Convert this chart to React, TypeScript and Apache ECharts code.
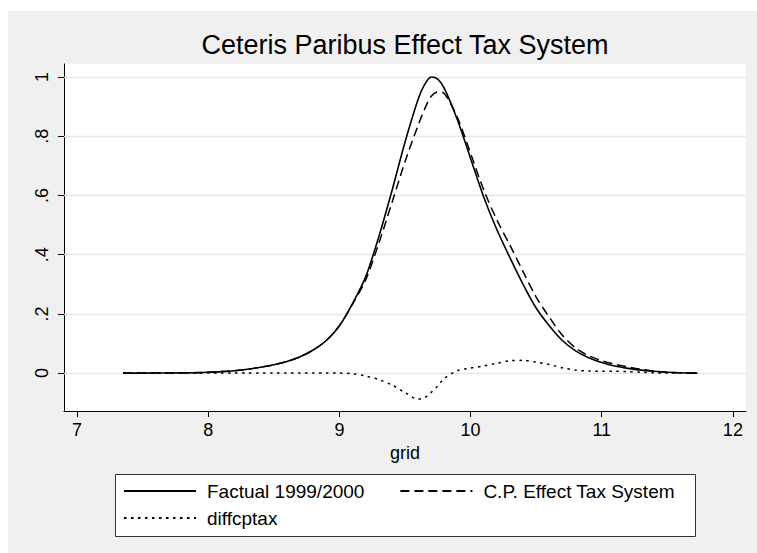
import React, { useEffect, useRef } from "react";
import * as echarts from "echarts";

const gridX = [7.35, 7.5, 7.7, 7.9, 8.0, 8.1, 8.2, 8.3, 8.4, 8.5, 8.6, 8.7, 8.8, 8.9, 9.0, 9.1, 9.2, 9.3, 9.4, 9.5, 9.6, 9.65, 9.7, 9.75, 9.8, 9.9, 10.0, 10.1, 10.2, 10.3, 10.4, 10.5, 10.6, 10.7, 10.8, 10.9, 11.0, 11.1, 11.2, 11.3, 11.4, 11.5, 11.6, 11.73];

const factual = [0, 0, 0.0005, 0.0015, 0.003, 0.005, 0.008, 0.013, 0.02, 0.028, 0.039, 0.055, 0.078, 0.11, 0.16, 0.235, 0.325, 0.46, 0.615, 0.78, 0.925, 0.975, 1.0, 0.993, 0.962, 0.855, 0.725, 0.595, 0.485, 0.39, 0.3, 0.22, 0.16, 0.11, 0.075, 0.052, 0.036, 0.024, 0.016, 0.01, 0.006, 0.003, 0.001, 0];

const cpEffect = [0, 0, 0.0005, 0.0015, 0.003, 0.005, 0.008, 0.013, 0.02, 0.028, 0.039, 0.055, 0.078, 0.11, 0.16, 0.233, 0.315, 0.438, 0.575, 0.714, 0.837, 0.892, 0.935, 0.95, 0.944, 0.863, 0.742, 0.619, 0.518, 0.432, 0.343, 0.257, 0.189, 0.128, 0.085, 0.059, 0.042, 0.03, 0.021, 0.013, 0.007, 0.003, 0.001, 0];

const diffcptax = [0, 0, 0, 0, 0, 0, 0, 0, 0, 0, 0, 0, 0, 0, 0, -0.002, -0.01, -0.022, -0.04, -0.066, -0.088, -0.083, -0.065, -0.043, -0.018, 0.008, 0.017, 0.024, 0.033, 0.042, 0.043, 0.037, 0.029, 0.018, 0.01, 0.007, 0.006, 0.006, 0.005, 0.003, 0.001, 0, 0, 0];

const xTicks = [7, 8, 9, 10, 11, 12];
const yTicks = [0, 0.2, 0.4, 0.6, 0.8, 1];

const seriesNames = ["Factual 1999/2000", "C.P. Effect Tax System", "diffcptax"];

const FONT = "'Liberation Sans', Arial, Helvetica, sans-serif";

export default function App() {
  const ref = useRef<HTMLDivElement>(null);
  useEffect(() => {
    if (!ref.current) return;
    const chart = echarts.init(ref.current, null, { renderer: "svg" });
    const pairs = (vals: number[]) => gridX.map((x, i) => [x, vals[i]]);
    const fmtY = (v: number) => {
      if (v === 0) return "0";
      if (v === 1) return "1";
      return String(+v.toFixed(1)).replace(/^0\./, ".");
    };
    const legendCommon = {
      left: 115,
      padding: 0,
      itemWidth: 72,
      itemHeight: 14,
      selectedMode: false,
      itemStyle: { opacity: 0 },
      textStyle: { fontSize: 19, color: "#000", fontFamily: FONT, padding: [0, 0, 0, 6], lineHeight: 22 },
    };
    chart.setOption({
      animation: false,
      backgroundColor: "#f0f0f0",
      textStyle: { fontFamily: FONT },
      title: {
        text: "Ceteris Paribus Effect Tax System",
        left: 397,
        top: 20,
        padding: 0,
        textAlign: "center",
        textStyle: { fontSize: 27, fontWeight: "normal", color: "#000", fontFamily: FONT },
      },
      grid: { left: 56, right: 11, top: 53, bottom: 142, show: true, backgroundColor: "#fff", borderWidth: 0 },
      xAxis: {
        type: "value",
        min: 6.9,
        max: 12.1,
        name: "grid",
        nameLocation: "middle",
        nameGap: 31,
        nameTextStyle: { fontSize: 18, color: "#000", fontFamily: FONT },
        axisLine: { show: true, onZero: false, lineStyle: { color: "#000", width: 1 } },
        axisTick: { show: true, length: 6, customValues: xTicks, lineStyle: { color: "#000", width: 1 } },
        axisLabel: { customValues: xTicks, fontSize: 18, color: "#000", margin: 10, fontFamily: FONT },
        splitLine: { show: false },
      },
      yAxis: {
        type: "value",
        min: -0.128,
        max: 1.044,
        axisLine: { show: true, onZero: false, lineStyle: { color: "#000", width: 1 } },
        axisTick: { show: true, length: 6, customValues: yTicks, lineStyle: { color: "#000", width: 1 } },
        axisLabel: {
          customValues: yTicks,
          rotate: 90,
          fontSize: 18,
          color: "#000",
          margin: 13,
          fontFamily: FONT,
          formatter: fmtY,
        },
        splitLine: { show: false },
      },
      legend: [
        { ...legendCommon, data: [seriesNames[0], seriesNames[1]], top: 469, itemGap: 35 },
        { ...legendCommon, data: [seriesNames[2]], top: 496 },
      ],
      graphic: [
        {
          type: "rect",
          z: 0,
          silent: true,
          shape: { x: 107.5, y: 463.5, width: 580, height: 62 },
          style: { fill: "#fff", stroke: "#333", lineWidth: 1 },
        },
      ],
      series: [
        {
          name: seriesNames[0],
          type: "line",
          data: pairs(factual),
          symbol: "none",
          smooth: 0.3,
          lineStyle: { color: "#000", width: 1.6, type: "solid" },
          itemStyle: { color: "#000" },
          emphasis: { disabled: true },
          markLine: {
            z: 1,
            silent: true,
            symbol: ["none", "none"],
            label: { show: false },
            lineStyle: { color: "#e6e6e6", width: 1.3, type: "solid" },
            data: yTicks.map((v) => ({ yAxis: v })),
          },
        },
        {
          name: seriesNames[1],
          type: "line",
          data: pairs(cpEffect),
          symbol: "none",
          smooth: 0.3,
          lineStyle: { color: "#000", width: 1.5, type: [9, 5] },
          itemStyle: { color: "#000" },
          emphasis: { disabled: true },
        },
        {
          name: seriesNames[2],
          type: "line",
          data: pairs(diffcptax),
          symbol: "none",
          smooth: 0.3,
          lineStyle: { color: "#000", width: 1.5, type: [2.5, 4.5] },
          itemStyle: { color: "#000" },
          emphasis: { disabled: true },
        },
      ],
    });
    return () => chart.dispose();
  }, []);
  return (
    <div
      ref={ref}
      style={{ position: "absolute", left: 8, top: 11, width: 749, height: 542 }}
    />
  );
}
